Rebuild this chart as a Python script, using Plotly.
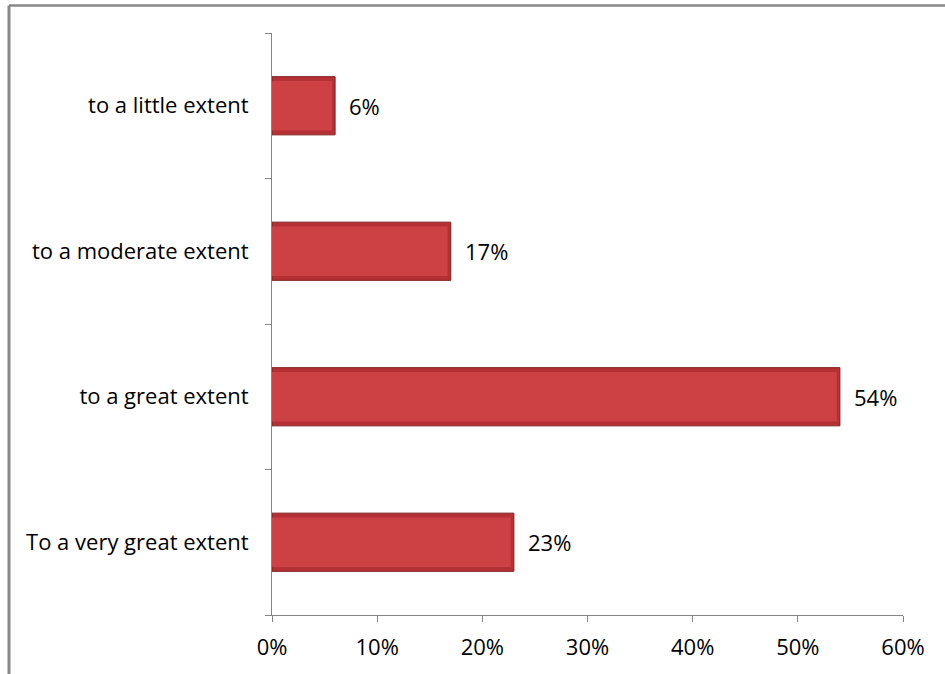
import plotly.graph_objects as go

# Survey responses, listed bottom to top
categories = ["To a very great extent", "to a great extent",
              "to a moderate extent", "to a little extent"]
shares = [23, 54, 17, 6]
value_labels = ["23%", "54%", "17%", "6%"]
x_ticks = [0, 10, 20, 30, 40, 50, 60]
x_tick_text = ["0%", "10%", "20%", "30%", "40%", "50%", "60%"]

FONT = "Open Sans"
FONT_SIZE = 22
AXIS_GREY = "#868686"
BEVEL = 0.3  # inset of the lighter face, in axis units

fig = go.Figure()

# Darker outer body of each bar
fig.add_trace(go.Bar(
    y=categories,
    x=shares,
    orientation="h",
    width=0.4,
    marker=dict(color="#B53034", line=dict(color="#82201F", width=1)),
    hoverinfo="skip",
))
# Lighter front face, slightly inset, giving the bevelled look
fig.add_trace(go.Bar(
    y=categories,
    x=[v - BEVEL for v in shares],
    orientation="h",
    width=0.34,
    marker=dict(color="#CD4044", line=dict(width=0)),
    hoverinfo="skip",
))

# Value labels to the right of each bar
for cat, val, lab in zip(categories, shares, value_labels):
    fig.add_annotation(
        x=val, y=cat, text=lab, showarrow=False,
        xanchor="left", yanchor="middle", xshift=12,
        font=dict(family=FONT, size=FONT_SIZE, color="#000000"),
    )

# Outer frame around the chart area
fig.add_shape(type="line", xref="paper", yref="paper",
              x0=-0.4168, x1=-0.4168, y0=1.0473, y1=-0.2,
              line=dict(color="#888888", width=3))
fig.add_shape(type="line", xref="paper", yref="paper",
              x0=-0.4168, x1=1.2, y0=1.0473, y1=1.0473,
              line=dict(color="#888888", width=2.5))

fig.update_layout(
    width=945, height=674,
    margin=dict(l=272, r=42, t=33, b=59),
    paper_bgcolor="white", plot_bgcolor="white",
    showlegend=False,
    barmode="overlay",
    font=dict(family=FONT, size=FONT_SIZE, color="#000000"),
    xaxis=dict(
        range=[0, 60], tickvals=x_ticks, ticktext=x_tick_text,
        showgrid=False, zeroline=False,
        showline=True, linecolor=AXIS_GREY, linewidth=1,
        ticks="outside", ticklen=6, tickcolor=AXIS_GREY,
        ticklabelstandoff=7,
        tickfont=dict(family=FONT, size=FONT_SIZE, color="#000000"),
    ),
    yaxis=dict(
        type="category", categoryorder="array", categoryarray=categories,
        showgrid=False, zeroline=False,
        showline=True, linecolor=AXIS_GREY, linewidth=1,
        ticks="outside", ticklen=6, tickcolor=AXIS_GREY,
        tickson="boundaries",
        tickfont=dict(family=FONT, size=FONT_SIZE, color="#000000"),
        ticklabelstandoff=18,
    ),
)

fig.write_html("out.html")
